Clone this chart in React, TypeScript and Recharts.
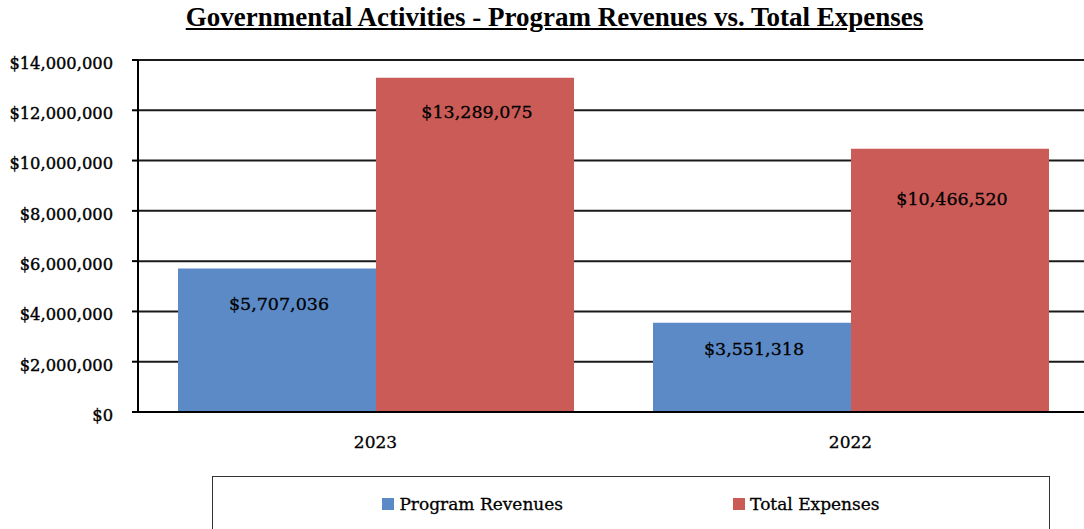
import React from 'react';
import { BarChart, Bar, XAxis, YAxis, CartesianGrid, LabelList } from 'recharts';

const years = ['2023', '2022'];
const programRevenues = [5707036, 3551318];
const totalExpenses = [13289075, 10466520];
const yTicks = [0, 2000000, 4000000, 6000000, 8000000, 10000000, 12000000, 14000000];
const seriesNames = ['Program Revenues', 'Total Expenses'];
const seriesColors = ['#5B8AC6', '#CA5B57'];

// distance from bar top to label centre, per bar (labels were hand-placed in the original)
const revenueLabelDrop = [35, 26];
const expenseLabelDrop = [34, 50];

const data = years.map((year, i) => ({
  year,
  revenues: programRevenues[i],
  expenses: totalExpenses[i],
}));

const serif = "'DejaVu Serif', serif";
const money = (v: number) => '$' + v.toLocaleString('en-US');

const makeLabel = (drops: number[]) => (props: any) => {
  const { x, y, width, value, index } = props;
  return (
    <text
      x={Number(x) + Number(width) / 2 + 2}
      y={Number(y) + drops[index]}
      textAnchor="middle"
      dominantBaseline="central"
      fontFamily={serif}
      fontSize={17.5}
      fill="#000"
      stroke="#000"
      strokeWidth={0.3}
    >
      {money(Number(value))}
    </text>
  );
};

export default function App() {
  return (
    <div style={{ position: 'fixed', left: 0, top: 0, width: 1084, height: 529, overflow: 'hidden', background: '#fff' }}>
      <div
        style={{
          position: 'absolute',
          top: 2,
          left: 0,
          width: 1109,
          textAlign: 'center',
          fontFamily: "'Liberation Serif', serif",
          fontWeight: 'bold',
          fontSize: 27,
          textDecoration: 'underline',
          color: '#000',
        }}
      >
        Governmental Activities - Program Revenues vs. Total Expenses
      </div>

      <div style={{ position: 'absolute', left: 0, top: 0 }}>
        <BarChart
          width={1088}
          height={470}
          data={data}
          margin={{ top: 60, right: 0, bottom: 0, left: 0 }}
          barCategoryGap={40}
          barGap={0}
        >
          <CartesianGrid vertical={false} stroke="#1a1a1a" strokeWidth={2} />
          <XAxis
            dataKey="year"
            height={58}
            axisLine={{ stroke: '#000', strokeWidth: 2 }}
            tickLine={false}
            tickMargin={18}
            tick={{ fill: '#000', fontSize: 17, fontFamily: serif, stroke: '#000', strokeWidth: 0.3 }}
          />
          <YAxis
            width={138}
            domain={[0, 14000000]}
            ticks={yTicks}
            interval={0}
            tickFormatter={money}
            axisLine={{ stroke: '#000', strokeWidth: 2 }}
            tickLine={{ stroke: '#000', strokeWidth: 2 }}
            tickSize={6}
            tickMargin={19}
            tick={{ fill: '#000', fontSize: 16.3, fontFamily: serif, dy: 3, stroke: '#000', strokeWidth: 0.4 }}
          />
          <Bar dataKey="revenues" name={seriesNames[0]} fill={seriesColors[0]} isAnimationActive={false}>
            <LabelList dataKey="revenues" content={makeLabel(revenueLabelDrop)} />
          </Bar>
          <Bar dataKey="expenses" name={seriesNames[1]} fill={seriesColors[1]} isAnimationActive={false}>
            <LabelList dataKey="expenses" content={makeLabel(expenseLabelDrop)} />
          </Bar>
        </BarChart>
      </div>

      <div
        style={{
          position: 'absolute',
          left: 212,
          top: 476,
          width: 838,
          height: 80,
          border: '1px solid #333',
          display: 'flex',
          justifyContent: 'center',
          alignItems: 'flex-start',
          gap: 170,
          paddingTop: 16,
          boxSizing: 'border-box',
          fontFamily: serif,
          fontSize: 17,
          color: '#000',
          WebkitTextStroke: '0.3px #000',
        }}
      >
        {seriesNames.map((name, i) => (
          <div key={name} style={{ display: 'flex', alignItems: 'center', lineHeight: '22px' }}>
            <span style={{ width: 12, height: 12, background: seriesColors[i], marginRight: 5, display: 'inline-block' }} />
            <span>{name}</span>
          </div>
        ))}
      </div>
    </div>
  );
}
